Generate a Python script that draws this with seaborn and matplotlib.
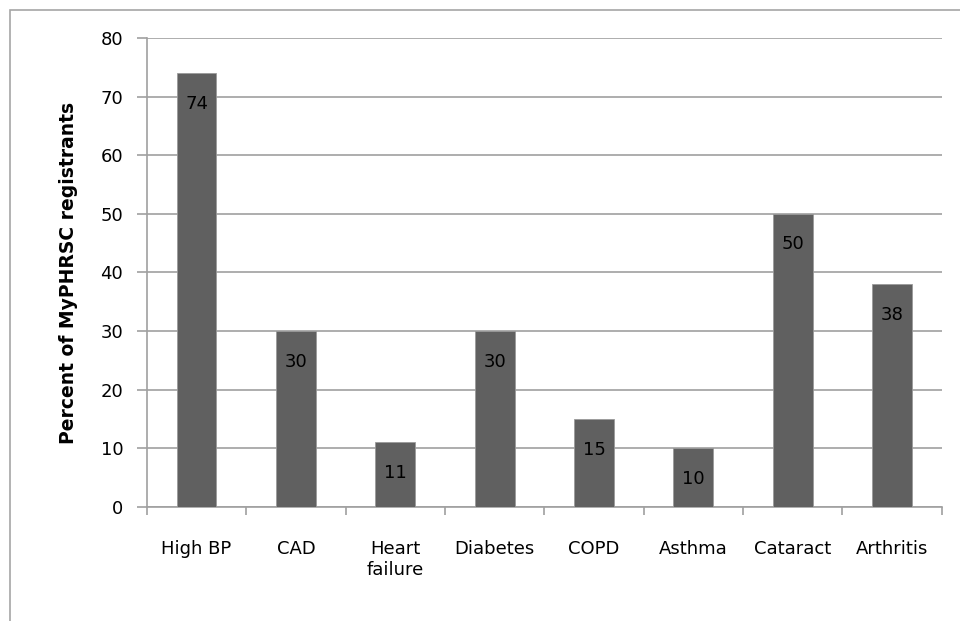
import matplotlib
matplotlib.use("Agg")
import matplotlib.pyplot as plt
import seaborn as sns
import pandas as pd
import numpy as np

categories = ["High BP", "CAD", "Heart\nfailure", "Diabetes", "COPD", "Asthma", "Cataract", "Arthritis"]
values = [74, 30, 11, 30, 15, 10, 50, 38]
y_ticks = [0, 10, 20, 30, 40, 50, 60, 70, 80]

df = pd.DataFrame({"condition": categories, "percent": values})

sns.set_theme(style="white")
plt.rcParams["font.family"] = ["DejaVu Sans"]

fig = plt.figure(figsize=(9.6, 6.21), dpi=100)
ax = fig.add_axes([0.153, 0.1836, 0.828, 0.7552])

# outer chart frame (Excel style)
fig.add_artist(plt.Rectangle((10 / 960, -0.1), 1.2, 1 - 10 / 621 + 0.1,
                             transform=fig.transFigure, fill=False,
                             edgecolor="#a6a6a6", linewidth=1.2))

sns.barplot(data=df, x="condition", y="percent", color="#606060", saturation=1,
            width=0.4, edgecolor="#9a9a9a", linewidth=0.6, ax=ax, zorder=3)

ax.set_ylim(0, 80)
ax.set_xlim(-0.5, len(categories) - 0.5)
ax.set_yticks(y_ticks)
ax.yaxis.grid(True, color="#a0a0a0", linewidth=1.2, zorder=0)
ax.set_axisbelow(True)

for s in ["top", "right"]:
    ax.spines[s].set_visible(False)
for s in ["left", "bottom"]:
    ax.spines[s].set_color("#a0a0a0")
    ax.spines[s].set_linewidth(1.2)

ax.tick_params(axis="y", which="major", left=True, length=7, width=1.2,
               color="#a0a0a0", labelsize=13, labelcolor="black", pad=10)
ax.set_xticks(np.arange(-0.5, len(categories), 1.0), minor=True)
ax.tick_params(axis="x", which="minor", bottom=True, length=6, width=1.2,
               color="#a0a0a0", direction="out")
ax.tick_params(axis="x", which="major", length=0, labelsize=13, labelcolor="black", pad=24)
for lbl in ax.get_xticklabels():
    lbl.set_verticalalignment("top")

ax.set_xlabel("")
ax.set_ylabel("Percent of MyPHRSC registrants", fontsize=13.5, fontweight="bold",
              color="black", labelpad=16)

for i, v in enumerate(values):
    ax.annotate(str(v), (i, v), xytext=(0, -22), textcoords="offset points",
                ha="center", va="center", fontsize=13, color="black", zorder=4)

fig.savefig("out.png", dpi=100)
